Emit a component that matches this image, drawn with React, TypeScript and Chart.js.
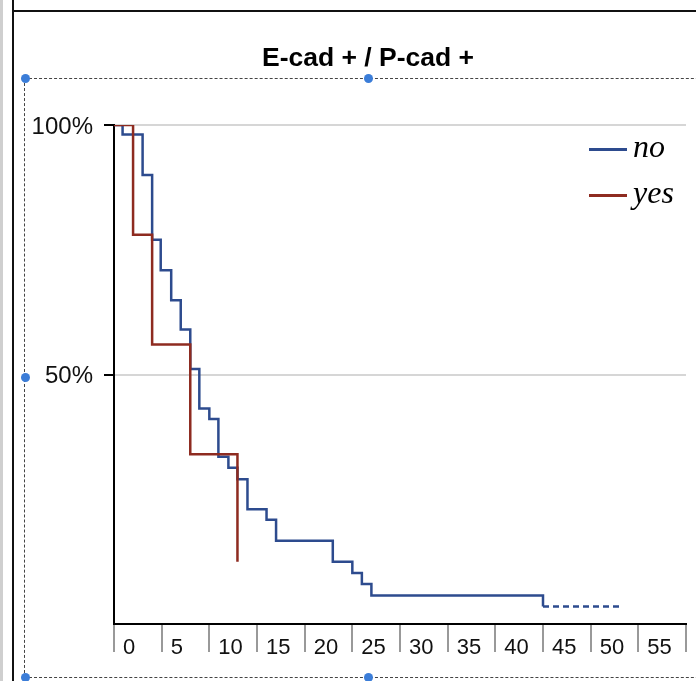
import React, { useEffect, useRef } from 'react';
import { Chart, registerables } from 'chart.js';

Chart.register(...registerables);

const chartTitle = 'E-cad + / P-cad +';
const groupLabels = ['no', 'yes'];
const noMonths = [0, 0.9, 3, 4, 4.9, 6, 7, 8, 8.95, 10, 10.95, 12, 12.95, 14, 16, 17, 22.95, 25, 26, 27, 45, 53];
const noSurvival = [100, 98.1, 90, 77, 70.9, 64.9, 59, 51.1, 43.2, 41.1, 33.5, 31.3, 29, 23, 20.9, 16.7, 12.5, 10.2, 8, 5.7, 3.5, 3.5];
const noCensoredFrom = 45;
const yesMonths = [0, 2, 4, 8, 12.95];
const yesSurvival = [100, 78, 56, 34, 12.5];
const xAxisMin = 0;
const xAxisMax = 60;
const xAxisStep = 5;
const yAxisMin = 0;
const yAxisMax = 100;
const yAxisStep = 50;

const BLUE = '#2d4b8e';
const RED = '#8e2b20';

function legendLine(color: string): HTMLCanvasElement {
  const c = document.createElement('canvas');
  c.width = 38;
  c.height = 6;
  const g = c.getContext('2d')!;
  g.fillStyle = color;
  g.fillRect(0, 2, 38, 3);
  return c;
}

const legendPlacer = {
  id: 'legendPlacer',
  afterLayout(chart: any) {
    const lg = chart.legend;
    if (!lg) return;
    const ca = chart.chartArea;
    lg.left = ca.right - 101;
    lg.top = ca.top - 6;
    lg.right = chart.width;
    lg.bottom = ca.bottom;
    lg.width = lg.right - lg.left;
    lg.height = lg.bottom - lg.top;
  },
};

export default function App() {
  const ref = useRef<HTMLCanvasElement>(null);

  useEffect(() => {
    if (!ref.current) return;
    const chart = new Chart(ref.current, {
      type: 'line',
      data: {
        datasets: [
          {
            label: groupLabels[0],
            data: noMonths.map((x, i) => ({ x, y: noSurvival[i] })),
            borderColor: BLUE,
            backgroundColor: BLUE,
            borderWidth: 2.5,
            stepped: 'before',
            pointRadius: 0,
            pointHoverRadius: 0,
            fill: false,
            order: 1,
            segment: {
              borderDash: (ctx: any) => (ctx.p0.parsed.x >= noCensoredFrom ? [6, 4] : undefined),
            },
          },
          {
            label: groupLabels[1],
            data: yesMonths.map((x, i) => ({ x, y: yesSurvival[i] })),
            borderColor: RED,
            backgroundColor: RED,
            borderWidth: 2.5,
            stepped: 'before',
            pointRadius: 0,
            pointHoverRadius: 0,
            fill: false,
            order: 0,
          },
        ],
      } as any,
      options: {
        responsive: false,
        animation: false,
        layout: { padding: { left: 0, right: 0, top: 0, bottom: 0 } },
        plugins: {
          title: {
            display: true,
            text: chartTitle,
            color: '#000',
            font: { family: 'Liberation Sans', size: 26.5, weight: 'bold', lineHeight: 1 },
            padding: { top: 45, bottom: 53.5 },
          },
          legend: {
            display: true,
            position: 'chartArea' as any,
            align: 'start',
            labels: {
              usePointStyle: true,
              boxWidth: 18,
              padding: 14,
              color: '#000',
              font: { family: 'Liberation Serif', size: 32, style: 'italic', lineHeight: 1 },
              sort: (a: any, b: any) => a.datasetIndex - b.datasetIndex,
              generateLabels: (ch: any) => {
                const items = (Chart.defaults.plugins.legend.labels as any).generateLabels(ch);
                return items.map((it: any) => ({ ...it, pointStyle: legendLine(it.strokeStyle) }));
              },
            },
          },
          tooltip: { enabled: false },
        },
        scales: {
          x: {
            type: 'linear',
            min: xAxisMin,
            max: xAxisMax,
            afterFit: (s: any) => {
              s.height = 57;
            },
            border: { display: true, color: '#000', width: 2 },
            grid: {
              drawOnChartArea: false,
              drawTicks: true,
              tickLength: 28,
              color: '#999',
              lineWidth: 2,
            },
            ticks: {
              stepSize: xAxisStep,
              autoSkip: false,
              maxRotation: 0,
              minRotation: 0,
              align: 'start',
              labelOffset: 9,
              padding: -15,
              color: '#111',
              font: { family: 'Liberation Sans', size: 22, lineHeight: 1 },
              callback: (v: any) => (Number(v) === xAxisMax ? '' : String(v)),
            },
          },
          y: {
            type: 'linear',
            min: yAxisMin,
            max: yAxisMax,
            afterFit: (s: any) => {
              s.width = 94;
            },
            border: { display: true, color: '#000', width: 2 },
            grid: {
              drawTicks: true,
              tickLength: 10,
              lineWidth: 2,
              color: (ctx: any) => (ctx.tick && ctx.tick.value === 0 ? 'rgba(0,0,0,0)' : '#d6d6d6'),
              tickColor: (ctx: any) => (ctx.tick && ctx.tick.value === 0 ? 'rgba(0,0,0,0)' : '#000'),
            },
            ticks: {
              stepSize: yAxisStep,
              padding: 11,
              labelOffset: 2,
              color: '#111',
              font: { family: 'Liberation Sans', size: 24, lineHeight: 1 },
              callback: (v: any) => (Number(v) === 0 ? '' : v + '%'),
            },
          },
          yRightSpace: {
            type: 'linear',
            position: 'right',
            display: true,
            afterFit: (s: any) => {
              s.width = 30;
            },
            border: { display: false },
            grid: { display: false, drawOnChartArea: false },
            ticks: { display: false },
          },
        },
      } as any,
      plugins: [legendPlacer],
    });
    return () => chart.destroy();
  }, []);

  const dot = (x: number, y: number): React.CSSProperties => ({
    position: 'absolute',
    left: x - 4.5,
    top: y - 4.5,
    width: 9,
    height: 9,
    borderRadius: '50%',
    background: '#3b7dd8',
  });

  return (
    <div
      style={{
        position: 'absolute',
        left: 0,
        top: 0,
        width: 696,
        height: 681,
        overflow: 'hidden',
        background: '#fff',
      }}
    >
      <div style={{ position: 'absolute', left: 0, top: 0, width: 3, height: 681, background: '#cfcfcf' }} />
      <div style={{ position: 'absolute', left: 12, top: 0, width: 2, height: 681, background: '#111' }} />
      <div style={{ position: 'absolute', left: 12, top: 10, width: 684, height: 2, background: '#111' }} />
      <div
        style={{
          position: 'absolute',
          left: 24,
          top: 78,
          width: 720,
          height: 600,
          boxSizing: 'border-box',
          border: '1px dashed #444',
        }}
      />
      <canvas
        ref={ref}
        width={696}
        height={681}
        style={{ position: 'absolute', left: 20, top: 0, width: 696, height: 681, display: 'block' }}
      />
      <div style={dot(25, 78)} />
      <div style={dot(368, 78)} />
      <div style={dot(25, 377)} />
      <div style={dot(25, 677)} />
      <div style={dot(368, 677)} />
    </div>
  );
}
